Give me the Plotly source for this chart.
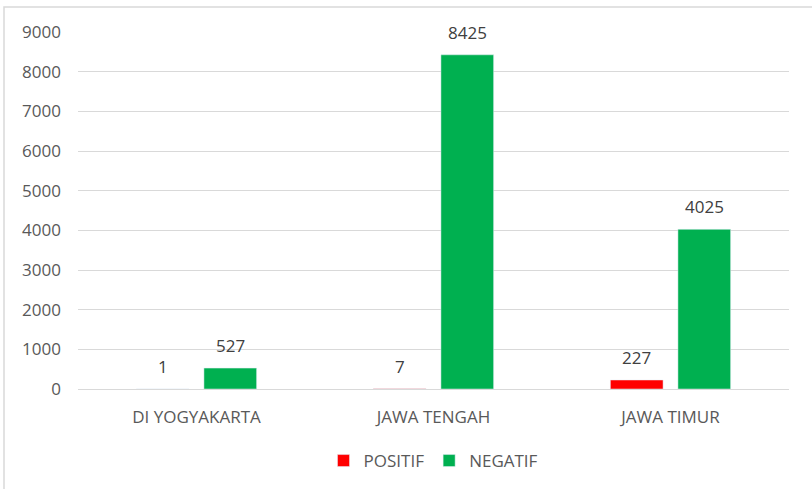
import plotly.graph_objects as go

categories = ["DI YOGYAKARTA", "JAWA TENGAH", "JAWA TIMUR"]
positif = [1, 7, 227]
negatif = [527, 8425, 4025]
y_ticks = [0, 1000, 2000, 3000, 4000, 5000, 6000, 7000, 8000, 9000]

FONT = "Open Sans"
TXT = "#595959"
LBL = "#404040"
FS = 17
BARGAP = 0.43

fig = go.Figure()
fig.add_trace(go.Bar(name="POSITIF", x=categories, y=positif, marker_color="#FF0000"))
fig.add_trace(go.Bar(name="NEGATIF", x=categories, y=negatif, marker_color="#00B050"))

# data labels placed above each grouped bar
slot = (1 - BARGAP) / 2
annotations = []
for i in range(len(categories)):
    for off, vals in ((-slot / 2, positif), (slot / 2, negatif)):
        annotations.append(dict(x=i + off, y=vals[i], xref="x", yref="y", text=str(vals[i]),
                                showarrow=False, yanchor="bottom", yshift=9,
                                font=dict(family=FONT, size=FS, color=LBL)))

L, R, T, B = 78, 23, 32, 100
W, H = 812, 489
pw, ph = W - L - R, H - T - B

fig.update_layout(
    width=W, height=H,
    margin=dict(l=L, r=R, t=T, b=B, autoexpand=False),
    paper_bgcolor="white", plot_bgcolor="white",
    barmode="group", bargap=BARGAP, bargroupgap=0.22,
    font=dict(family=FONT, size=FS, color=TXT),
    showlegend=True,
    legend=dict(orientation="h", x=0.5, xanchor="center", y=-(461 - 389) / ph, yanchor="middle",
                font=dict(family=FONT, size=FS, color=TXT), itemwidth=30, traceorder="normal"),
    xaxis=dict(showgrid=False, showline=False, ticks="", tickfont=dict(family=FONT, size=FS, color=TXT),
               ticklabelstandoff=16),
    yaxis=dict(range=[0, 9000], tickvals=y_ticks, showgrid=True, gridcolor="#D9D9D9", gridwidth=1.3,
               zeroline=True, zerolinecolor="#D9D9D9", zerolinewidth=1.3, showline=False, ticks="",
               tickfont=dict(family=FONT, size=FS, color=TXT), ticklabelstandoff=16),
    annotations=annotations,
    shapes=[dict(type="rect", xref="paper", yref="paper",
                 x0=(4 - L) / pw, x1=(W + 5 - L) / pw,
                 y0=(H - B - (H + 5)) / ph, y1=(H - B - 7) / ph,
                 line=dict(color="#D9D9D9", width=1.5), fillcolor="rgba(0,0,0,0)", layer="below")],
)

fig.write_html("out.html", config={"displayModeBar": False},
               post_script="document.body.style.margin='0';document.body.style.overflow='hidden';")
